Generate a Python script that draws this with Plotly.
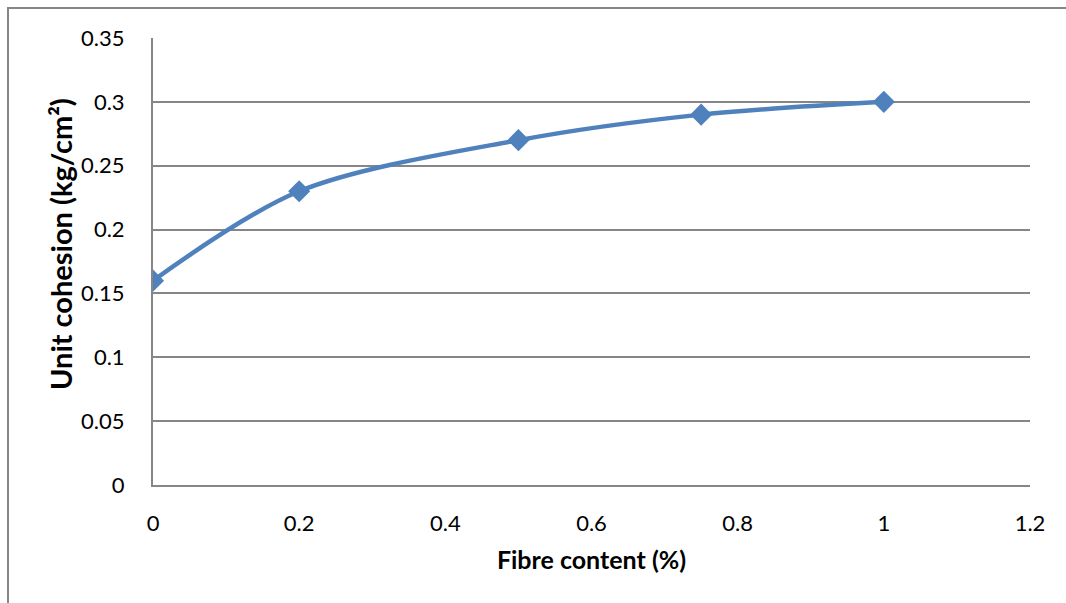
import plotly.graph_objects as go

fibre_content = [0, 0.2, 0.5, 0.75, 1.0]
unit_cohesion = [0.16, 0.23, 0.27, 0.29, 0.30]

x_ticks = [0, 0.2, 0.4, 0.6, 0.8, 1, 1.2]
x_tick_labels = ["0", "0.2", "0.4", "0.6", "0.8", "1", "1.2"]
y_ticks = [0, 0.05, 0.1, 0.15, 0.2, 0.25, 0.3, 0.35]
y_tick_labels = ["0", "0.05", "0.1", "0.15", "0.2", "0.25", "0.3", "0.35"]

x_title = "Fibre content (%)"
y_title = "Unit cohesion (kg/cm²)"

W, H = 1066, 603
L, R, T, B = 153, 36, 38, 118
pw, ph = W - L - R, H - T - B

def px(x):
    return (x - L) / pw

def py(y):
    return (H - B - y) / ph

fig = go.Figure()
fig.add_trace(go.Scatter(
    x=fibre_content, y=unit_cohesion,
    mode="lines+markers",
    line=dict(color="#4F81BD", width=4.5, shape="spline", smoothing=0.9),
    marker=dict(symbol="diamond", size=17, color="#4F81BD"),
    showlegend=False,
))

font_family = "Lato, 'Open Sans', sans-serif"
fig.update_layout(
    width=W, height=H,
    margin=dict(l=L, r=R, t=T, b=B),
    paper_bgcolor="white", plot_bgcolor="white",
    font=dict(family=font_family, size=22, color="black"),
    xaxis=dict(
        range=[0, 1.2], tickvals=x_ticks, ticktext=x_tick_labels,
        showgrid=False, zeroline=False,
        showline=True, linecolor="#868686", linewidth=2,
        ticks="", ticklen=0, ticklabelstandoff=18,
        title=dict(text="<b>" + x_title + "</b>", font=dict(size=25), standoff=16),
    ),
    yaxis=dict(
        range=[0, 0.35], tickvals=y_ticks, ticktext=y_tick_labels,
        showgrid=True, gridcolor="#868686", gridwidth=2,
        zeroline=False,
        showline=True, linecolor="#868686", linewidth=2,
        ticks="", ticklen=0, ticklabelstandoff=22,
    ),
)

fig.add_annotation(
    text="<b>" + y_title + "</b>", textangle=-90,
    xref="paper", yref="paper", x=px(61), y=py(244),
    xanchor="center", yanchor="middle", showarrow=False,
    font=dict(size=29, family=font_family, color="black"),
)

fig.add_shape(
    type="rect", xref="paper", yref="paper",
    x0=px(8), x1=px(1080), y0=py(640), y1=py(8),
    line=dict(color="#868686", width=2), fillcolor="rgba(0,0,0,0)", layer="below",
)

fig.write_html(
    "out.html",
    config={"displayModeBar": False},
    post_script="document.body.style.margin='0';document.body.style.overflow='hidden';",
)
